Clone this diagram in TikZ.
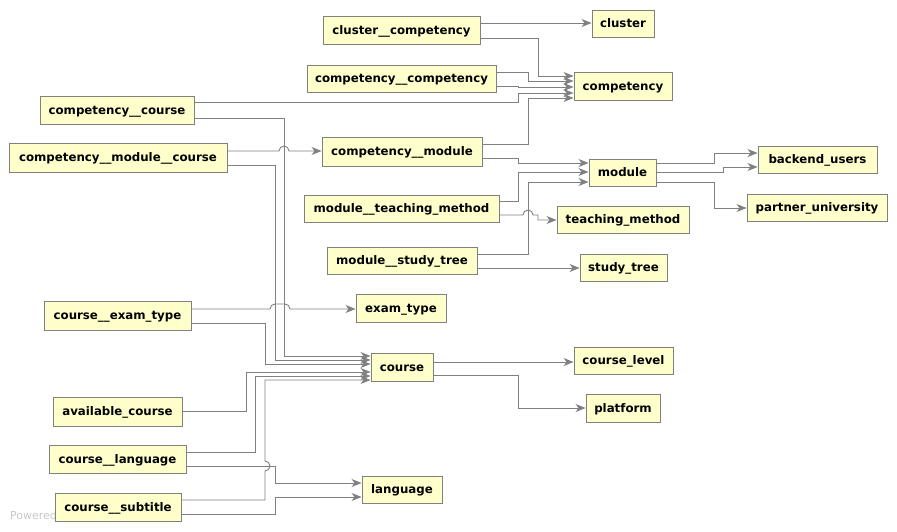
\documentclass[tikz,border=0pt]{standalone}
\usepackage{fontspec}
\setsansfont{DejaVu Sans}
\usetikzlibrary{arrows.meta}
\definecolor{boxfill}{HTML}{FFFFCC}
\definecolor{boxline}{HTML}{808080}
\definecolor{wire}{HTML}{808080}
\definecolor{wmark}{HTML}{C8C8C8}
\tikzset{
  tbl/.style={draw=boxline, fill=boxfill, line width=0.9pt, inner sep=0pt,
    text height=10.8pt, text depth=2pt,
    font=\sffamily\bfseries\fontsize{11.8}{13}\selectfont, text=black},
  fk/.style={draw=wire, line width=0.9pt,
    -{Stealth[length=10pt,width=8pt,inset=3pt,fill=wire]}},
}
% place a table box from its corner coordinates (x1,y1,x2,y2)
\newcommand{\tablebox}[6]{%
  \pgfmathsetmacro{\bw}{#4-#2}\pgfmathsetmacro{\bh}{#5-#3}%
  \pgfmathsetmacro{\bx}{(#2+#4)/2}\pgfmathsetmacro{\by}{(#3+#5)/2}%
  \node[tbl, minimum width=\bw pt, minimum height=\bh pt] (#1) at (\bx,\by) {#6};}
\begin{document}
\begin{tikzpicture}[x=1pt,y=-1pt]
\useasboundingbox[fill=white] (0,0) rectangle (897,532);

% watermark, partly covered by the course__subtitle box
\node[anchor=west, text=wmark, font=\sffamily\fontsize{11}{13}\selectfont, inner sep=0pt] (wm) at (10,516) {Powered by yFiles};

% tables
\tablebox{cc}{323}{16}{480}{44}{cluster\_\_competency}
\tablebox{cl}{592}{10}{654}{37}{cluster}
\tablebox{ccmp}{307}{65}{496}{92}{competency\_\_competency}
\tablebox{cmp}{574}{72}{672}{100}{competency}
\tablebox{ccrs}{40}{96}{194}{124}{competency\_\_course}
\tablebox{cmc}{9}{143}{227}{172}{competency\_\_module\_\_course}
\tablebox{cm}{322}{137}{482}{166}{competency\_\_module}
\tablebox{mod}{589}{159}{656}{186}{module}
\tablebox{mtm}{304}{195}{499}{222}{module\_\_teaching\_method}
\tablebox{tm}{557}{206}{689}{233}{teaching\_method}
\tablebox{mst}{327}{247}{477}{274}{module\_\_study\_tree}
\tablebox{st}{580}{254}{667}{281}{study\_tree}
\tablebox{bu}{758}{146}{877}{173}{backend\_users}
\tablebox{pu}{747}{194}{887}{221}{partner\_university}
\tablebox{cet}{44}{301}{191}{330}{course\_\_exam\_type}
\tablebox{et}{356}{294}{446}{322}{exam\_type}
\tablebox{crs}{371}{353}{433}{381}{course}
\tablebox{clv}{574}{347}{673}{374}{course\_level}
\tablebox{pl}{586}{394}{660}{422}{platform}
\tablebox{ac}{53}{397}{182}{426}{available\_course}
\tablebox{clang}{49}{445}{186}{473}{course\_\_language}
\tablebox{cs}{55}{493}{181}{521}{course\_\_subtitle}
\tablebox{lang}{362}{476}{442}{503}{language}

% foreign keys into competency / cluster
\draw[fk] (cc.east |- 0,23) -- (cl.west |- 0,23);
\draw[fk] (cc.east |- 0,38) -- (538,38) -- (538,76) -- (cmp.west |- 0,76);
\draw[fk] (ccmp.east |- 0,72) -- (528,72) -- (528,81) -- (cmp.west |- 0,81);
\draw[fk] (ccmp.east |- 0,86) -- (518,86) -- (518,87) -- (cmp.west |- 0,87);
\draw[fk] (ccrs.east |- 0,102) -- (518,102) -- (518,93) -- (cmp.west |- 0,93);
\draw[fk] (cm.east |- 0,144) -- (528,144) -- (528,98) -- (cmp.west |- 0,98);

% competency__course / competency__module__course
\draw[fk] (ccrs.east |- 0,118) -- (284,118) -- (284,356) -- (crs.west |- 0,356);
\draw[fk] (cmc.east |- 0,151) -- (279,151)
  arc[start angle=180,end angle=0,radius=5pt] -- (cm.west |- 0,151);
\draw[fk] (cmc.east |- 0,165) -- (275,165) -- (275,360) -- (crs.west |- 0,360);

% module and its neighbours
\draw[fk] (cm.east |- 0,158) -- (518,158) -- (518,163) -- (mod.west |- 0,163);
\draw[fk] (mtm.east |- 0,201) -- (518,201) -- (518,172) -- (mod.west |- 0,172);
\draw[fk] (mtm.east |- 0,215) -- (523,215)
  arc[start angle=180,end angle=0,radius=5pt] -- (538,215) -- (538,220) -- (tm.west |- 0,220);
\draw[fk] (mst.east |- 0,254) -- (528,254) -- (528,182) -- (mod.west |- 0,182);
\draw[fk] (mst.east |- 0,268) -- (st.west |- 0,268);
\draw[fk] (mod.east |- 0,163) -- (714,163) -- (714,153) -- (bu.west |- 0,153);
\draw[fk] (mod.east |- 0,172) -- (723,172) -- (723,167) -- (bu.west |- 0,167);
\draw[fk] (mod.east |- 0,182) -- (714,182) -- (714,208) -- (pu.west |- 0,208);

% course and its neighbours
\draw[fk] (cet.east |- 0,309) -- (270,309)
  arc[start angle=180,end angle=90,radius=5pt] -- (285,304)
  arc[start angle=90,end angle=0,radius=5pt] -- (et.west |- 0,309);
\draw[fk] (cet.east |- 0,323) -- (265,323) -- (265,364) -- (crs.west |- 0,364);
\draw[fk] (ac.east |- 0,411) -- (246,411) -- (246,372) -- (crs.west |- 0,372);
\draw[fk] (clang.east |- 0,452) -- (255,452) -- (255,376) -- (crs.west |- 0,376);
\draw[fk] (cs.east |- 0,500) -- (265,500) -- (265,471)
  arc[start angle=-90,end angle=90,radius=5pt] -- (265,380) -- (crs.west |- 0,380);
\draw[fk] (clang.east |- 0,466) -- (275,466) -- (275,483) -- (lang.west |- 0,483);
\draw[fk] (cs.east |- 0,514) -- (275,514) -- (275,497) -- (lang.west |- 0,497);
\draw[fk] (crs.east |- 0,362) -- (clv.west |- 0,362);
\draw[fk] (crs.east |- 0,375) -- (518,375) -- (518,408) -- (pl.west |- 0,408);
\end{tikzpicture}
\end{document}
